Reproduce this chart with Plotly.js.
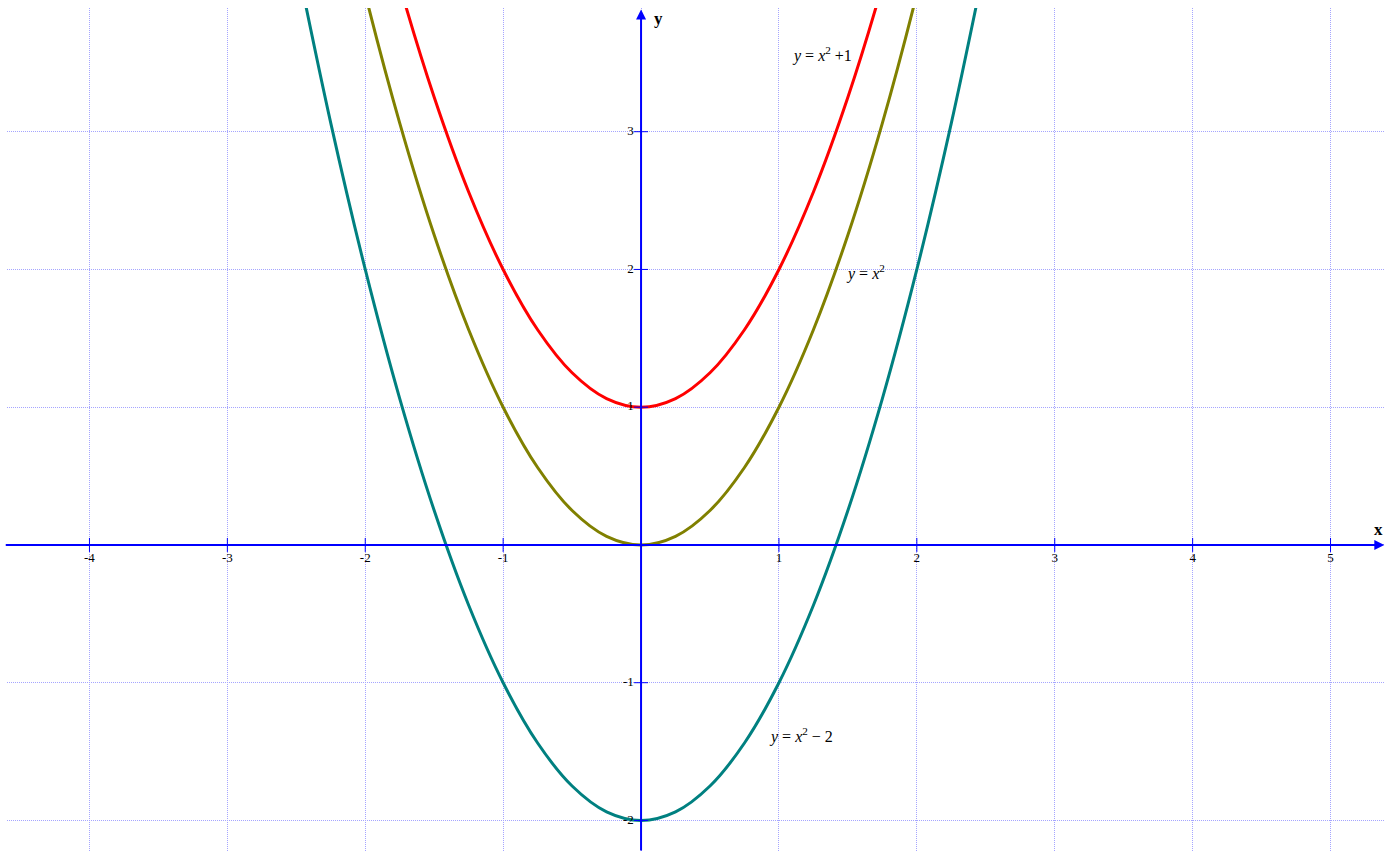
<!DOCTYPE html>
<html>
<head>
<meta charset="utf-8">
<script src="https://cdn.plot.ly/plotly-3.0.1.min.js"></script>
<style>html,body{margin:0;padding:0;background:#fff;}#chart{width:1399px;height:852px;}</style>
</head>
<body>
<div id="chart"></div>
<script>
// sample points
const xs = [-2.5,-2.25,-2,-1.75,-1.5,-1.25,-1,-0.75,-0.5,-0.25,0,0.25,0.5,0.75,1,1.25,1.5,1.75,2,2.25,2.5];
const yRed = [7.25,6.0625,5,4.0625,3.25,2.5625,2,1.5625,1.25,1.0625,1,1.0625,1.25,1.5625,2,2.5625,3.25,4.0625,5,6.0625,7.25];
const yOlive = [6.25,5.0625,4,3.0625,2.25,1.5625,1,0.5625,0.25,0.0625,0,0.0625,0.25,0.5625,1,1.5625,2.25,3.0625,4,5.0625,6.25];
const yTeal = [4.25,3.0625,2,1.0625,0.25,-0.4375,-1,-1.4375,-1.75,-1.9375,-2,-1.9375,-1.75,-1.4375,-1,-0.4375,0.25,1.0625,2,3.0625,4.25];
const xTicks = [-4,-3,-2,-1,1,2,3,4,5];
const xTickLabels = ['-4','-3','-2','-1','1','2','3','4','5'];
const yTicks = [-2,-1,1,2,3];
const yTickLabels = ['-2','-1','1','2','3'];
const curveLabels = ['<i>y</i> = <i>x</i><sup>2</sup> +1', '<i>y</i> = <i>x</i><sup>2</sup>', '<i>y</i> = <i>x</i><sup>2</sup> − 2'];
const curveLabelX = [1.31, 1.63, 1.16];
const curveLabelY = [3.56, 1.98, -1.38];

const serif = 'Times New Roman, Liberation Serif, serif';
const blue = '#0000ff';
const xr = [-4.598, 5.395];
const yr = [-2.229, 3.898];

const traces = [
  {x: xs, y: yRed, mode: 'lines', line: {color: '#ff0000', width: 3, shape: 'spline'}, hoverinfo: 'none'},
  {x: xs, y: yOlive, mode: 'lines', line: {color: '#808000', width: 3, shape: 'spline'}, hoverinfo: 'none'},
  {x: xs, y: yTeal, mode: 'lines', line: {color: '#008080', width: 3, shape: 'spline'}, hoverinfo: 'none'},
  {x: xTicks, y: xTicks.map(() => 0), mode: 'markers+text', text: xTickLabels, textposition: 'bottom center',
   textfont: {family: serif, size: 13, color: '#000'},
   marker: {symbol: 'line-ns-open', size: 10, color: blue, line: {color: blue, width: 1}}, hoverinfo: 'none', cliponaxis: false},
  {x: yTicks.map(() => 0), y: yTicks, mode: 'markers+text', text: yTickLabels, textposition: 'middle left',
   textfont: {family: serif, size: 13, color: '#000'},
   marker: {symbol: 'line-ew-open', size: 10, color: blue, line: {color: blue, width: 1}}, hoverinfo: 'none', cliponaxis: false}
];

const annotations = [
  {x: xr[1] - 0.005, y: 0, ax: xr[0] - 0.02, ay: 0, axref: 'x', ayref: 'y', xref: 'x', yref: 'y', text: '',
   showarrow: true, arrowhead: 2, arrowsize: 1, arrowwidth: 2, arrowcolor: blue, standoff: 0, startstandoff: 0},
  {x: 0, y: yr[1] - 0.01, ax: 0, ay: yr[0], axref: 'x', ayref: 'y', xref: 'x', yref: 'y', text: '',
   showarrow: true, arrowhead: 2, arrowsize: 1, arrowwidth: 2, arrowcolor: blue, standoff: 0, startstandoff: 0},
  {x: 5.35, y: 0.11, xref: 'x', yref: 'y', text: '<b>x</b>', showarrow: false, font: {family: serif, size: 17, color: '#000'}},
  {x: 0.13, y: 3.82, xref: 'x', yref: 'y', text: '<b>y</b>', showarrow: false, font: {family: serif, size: 17, color: '#000'}}
];
curveLabels.forEach((t, i) => annotations.push({x: curveLabelX[i], y: curveLabelY[i], xref: 'x', yref: 'y', text: t,
  showarrow: false, font: {family: serif, size: 16, color: '#000'}}));

const layout = {
  width: 1399, height: 852,
  margin: {l: 7, r: 14, t: 8, b: 0, pad: 0},
  paper_bgcolor: '#fff', plot_bgcolor: '#fff',
  showlegend: false,
  xaxis: {range: xr, dtick: 1, tick0: 0, showgrid: true, gridcolor: '#a5a5ff', griddash: '1px,1px', gridwidth: 1,
          zeroline: false, showticklabels: false, ticks: '', showline: false, fixedrange: true},
  yaxis: {range: yr, dtick: 1, tick0: 0, showgrid: true, gridcolor: '#a5a5ff', griddash: '1px,1px', gridwidth: 1,
          zeroline: false, showticklabels: false, ticks: '', showline: false, fixedrange: true},
  annotations: annotations
};

Plotly.newPlot('chart', traces, layout, {displayModeBar: false, staticPlot: true});
</script>
</body>
</html>
